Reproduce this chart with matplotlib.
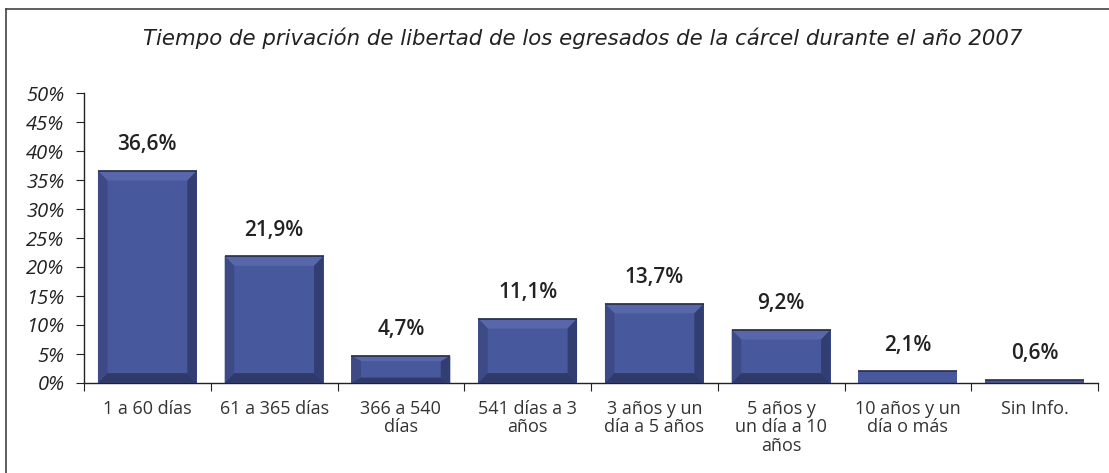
import matplotlib
matplotlib.use("Agg")
import matplotlib.pyplot as plt
from matplotlib.patches import Polygon
from matplotlib.lines import Line2D

categories = ["1 a 60 días", "61 a 365 días", "366 a 540\ndías", "541 días a 3\naños",
              "3 años y un\ndía a 5 años", "5 años y\nun día a 10\naños", "10 años y un\ndía o más", "Sin Info."]
values = [36.6, 21.9, 4.7, 11.1, 13.7, 9.2, 2.1, 0.6]
labels = ["36,6%", "21,9%", "4,7%", "11,1%", "13,7%", "9,2%", "2,1%", "0,6%"]
yticks = [0, 5, 10, 15, 20, 25, 30, 35, 40, 45, 50]
title = "Tiempo de privación de libertad de los egresados de la cárcel durante el año 2007"

plt.rcParams['font.family'] = ['Open Sans', 'DejaVu Sans']

fig = plt.figure(figsize=(11.09, 4.73), dpi=100)
W, H = 1109, 473
ax = fig.add_axes([84 / W, 1 - 383 / H, (1098 - 84) / W, (383 - 93) / H])

x = list(range(len(values)))
bw = 0.78
face = "#48589c"
bars = ax.bar(x, values, width=bw, color=face, edgecolor="none", zorder=2)

# bevel decoration derived from each bar's geometry
for b in bars:
    x0, w, h = b.get_x(), b.get_width(), b.get_height()
    x1 = x0 + w
    bx = 0.075
    by = min(1.7, h * 0.2)
    if h > 3:
        ax.add_patch(Polygon([(x0, h), (x1, h), (x1 - bx, h - by), (x0 + bx, h - by)],
                             closed=True, color="#5767aa", lw=0, zorder=3))
        ax.add_patch(Polygon([(x0, 0), (x0, h), (x0 + bx, h - by), (x0 + bx, by)],
                             closed=True, color="#3d4a86", lw=0, zorder=3))
        ax.add_patch(Polygon([(x1, 0), (x1, h), (x1 - bx, h - by), (x1 - bx, by)],
                             closed=True, color="#323e72", lw=0, zorder=3))
        ax.add_patch(Polygon([(x0, 0), (x1, 0), (x1 - bx, by), (x0 + bx, by)],
                             closed=True, color="#2f3a6b", lw=0, zorder=3))
    ax.plot([x0, x1], [h, h], color="#2a2d45", lw=1.2, zorder=4, solid_capstyle="butt")

for xi, v, lab in zip(x, values, labels):
    ax.annotate(lab, (xi, v), xytext=(0, 11), textcoords="offset points",
                ha="center", va="bottom", fontsize=15, fontweight="semibold", color="#222222")

ax.set_xlim(-0.5, len(values) - 0.5)
ax.set_ylim(0, 50)
ax.set_yticks(yticks)
ax.set_yticklabels([f"{t}%" for t in yticks], fontsize=14.5, style="italic", color="#222222")
ax.set_xticks([i - 0.5 for i in range(len(values) + 1)], minor=False)
ax.set_xticklabels([])
ax.set_xticks(x, minor=True)
ax.set_xticklabels(categories, minor=True, fontsize=13, color="#333333", linespacing=1.05)
ax.tick_params(axis="x", which="minor", length=0, pad=12)
ax.tick_params(axis="x", which="major", length=6, direction="out", color="#222222")
ax.tick_params(axis="y", length=6, direction="out", color="#222222", pad=8)
for s in ["top", "right"]:
    ax.spines[s].set_visible(False)
for s in ["left", "bottom"]:
    ax.spines[s].set_color("#222222")
    ax.spines[s].set_linewidth(1.0)

fig.text(583 / W, 1 - 38 / H, title, ha="center", va="center", fontsize=15.3,
         style="italic", color="#222222", family="DejaVu Sans")

# outer frame (left and top edges visible)
fig.add_artist(Line2D([6 / W, 6 / W], [0, 1 - 9 / H], transform=fig.transFigure, color="#444444", lw=1.2))
fig.add_artist(Line2D([6 / W, 1], [1 - 9 / H, 1 - 9 / H], transform=fig.transFigure, color="#444444", lw=1.2))

fig.savefig("out.png", dpi=100)
